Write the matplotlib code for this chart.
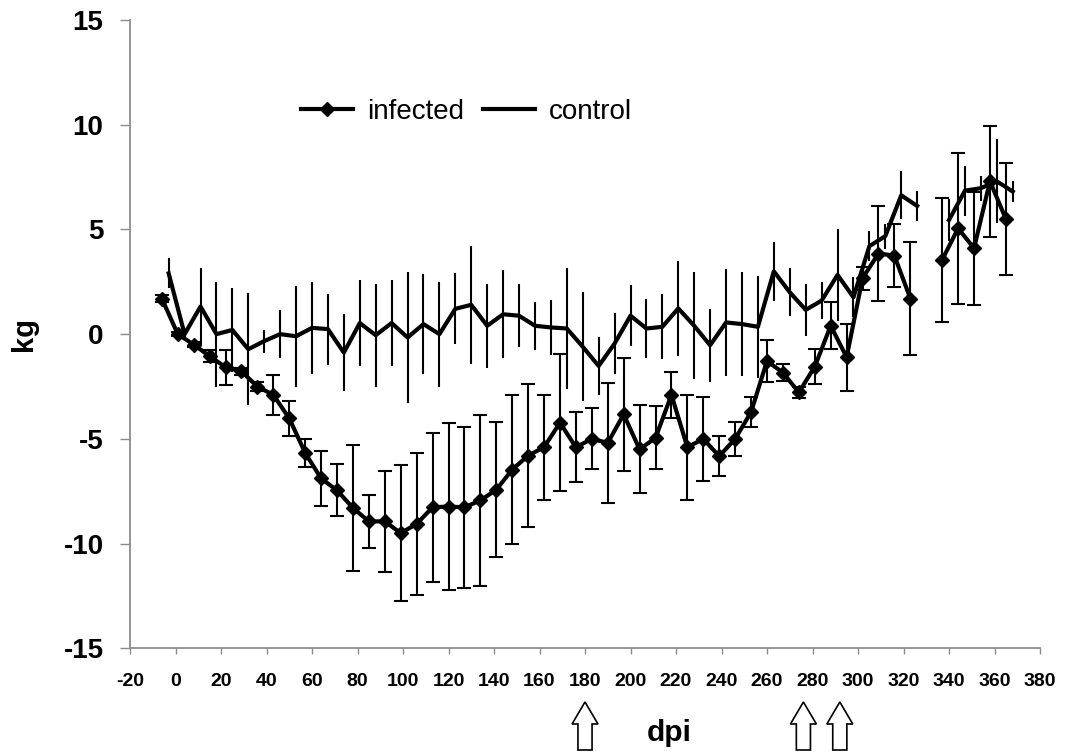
import numpy as np
import matplotlib
matplotlib.use("Agg")
import matplotlib.pyplot as plt
from matplotlib.patches import FancyArrow
from matplotlib.transforms import blended_transform_factory

plt.rcParams["font.family"] = ["Liberation Sans", "DejaVu Sans"]
plt.rcParams["axes.unicode_minus"] = False

nan = np.nan

# infected group: weight change (kg), mean and error; no sample at dpi 330
inf_dpi = [-6, 1, 8, 15, 22, 29, 36, 43, 50, 57, 64, 71, 78, 85, 92, 99, 106,
           113, 120, 127, 134, 141, 148, 155, 162, 169, 176, 183, 190, 197, 204,
           211, 218, 225, 232, 239, 246, 253, 260, 267, 274, 281, 288, 295, 302,
           309, 316, 323, 330, 337, 344, 351, 358, 365]
inf_kg = [1.7, 0.0, -0.5, -1.05, -1.58, -1.78, -2.5, -2.9, -4.02, -5.67, -6.89,
          -7.46, -8.3, -8.94, -8.94, -9.5, -9.06, -8.27, -8.23, -8.27, -7.94,
          -7.43, -6.47, -5.8, -5.4, -4.23, -5.4, -5.0, -5.19, -3.83, -5.5, -4.95,
          -2.9, -5.4, -5.0, -5.83, -5.0, -3.72, -1.28, -1.84, -2.78, -1.55, 0.4,
          -1.1, 2.67, 3.85, 3.75, 1.7, nan, 3.55, 5.05, 4.1, 7.3, 5.5]
inf_err = [0.15, 0.1, 0.12, 0.28, 0.84, 0.15, 0.2, 0.95, 0.84, 0.68, 1.3, 1.24,
           3.0, 1.27, 2.4, 3.26, 3.4, 3.57, 3.97, 3.83, 4.1, 3.22, 3.55, 3.4,
           2.5, 3.27, 1.68, 1.45, 2.86, 2.7, 2.1, 1.5, 1.1, 2.5, 2.0, 0.96, 0.8,
           0.7, 1.02, 0.42, 0.25, 0.85, 1.12, 1.6, 0.56, 2.28, 1.5, 2.7, nan,
           2.95, 3.6, 2.7, 2.65, 2.68]

# control group; no sample at dpi 333
ctl_dpi = [-3, 4, 11, 18, 25, 32, 39, 46, 53, 60, 67, 74, 81, 88, 95, 102, 109,
           116, 123, 130, 137, 144, 151, 158, 165, 172, 179, 186, 193, 200, 207,
           214, 221, 228, 235, 242, 249, 256, 263, 270, 277, 284, 291, 298, 305,
           312, 319, 326, 333, 340, 347, 354, 361, 368]
ctl_kg = [2.9, 0.0, 1.32, 0.0, 0.2, -0.72, -0.33, 0.0, -0.1, 0.3, 0.24, -0.88,
          0.53, -0.05, 0.53, -0.16, 0.48, 0.0, 1.21, 1.4, 0.4, 0.95, 0.88, 0.4,
          0.32, 0.27, -0.6, -1.52, -0.45, 0.88, 0.27, 0.35, 1.23, 0.4, -0.53,
          0.56, 0.48, 0.35, 3.0, 2.0, 1.16, 1.6, 2.83, 1.76, 4.2, 4.68, 6.63,
          6.12, nan, 5.45, 6.85, 6.97, 7.3, 6.81]
ctl_err = [0.72, 0.2, 1.85, 2.5, 2.0, 2.67, 0.55, 1.13, 2.4, 2.2, 1.7, 1.85,
           2.05, 2.45, 2.05, 3.15, 2.4, 2.5, 1.7, 2.82, 2.0, 2.1, 1.5, 1.15, 1.3,
           2.9, 2.6, 1.4, 1.45, 1.45, 1.4, 1.55, 2.25, 2.55, 1.75, 2.55, 2.5,
           2.45, 1.4, 1.15, 1.24, 0.9, 2.2, 0.96, 0.73, 0.6, 1.15, 0.7, nan,
           1.0, 1.2, 0.6, 2.0, 0.5]

# events marked under the axis
arrow_dpi = [180, 276, 292]

fig = plt.figure(figsize=(10.66, 7.52), dpi=100)
ax = fig.add_axes([130 / 1066, 103.7 / 752, 910 / 1066, 628.3 / 752])

ctl = ax.errorbar(ctl_dpi, ctl_kg, yerr=ctl_err, fmt="-", color="black",
                  lw=3, elinewidth=1.5, capsize=0)
inf = ax.errorbar(inf_dpi, inf_kg, yerr=inf_err, fmt="-D", color="black",
                  lw=3, ms=7, elinewidth=1.5, capsize=5, capthick=1.5)

ax.set_xlim(-20, 380)
ax.set_ylim(-15, 15)
ax.set_xticks(range(-20, 381, 20))
ax.set_yticks(range(-15, 16, 5))

for side in ["top", "right"]:
    ax.spines[side].set_visible(False)
for side in ["left", "bottom"]:
    ax.spines[side].set_color("#8c8c8c")
    ax.spines[side].set_linewidth(1.3)

ax.tick_params(axis="y", length=7, width=1, color="#8c8c8c", pad=12,
               labelsize=20)
ax.tick_params(axis="x", length=4, width=1, color="#8c8c8c", pad=14,
               labelsize=14)
plt.setp(ax.get_xticklabels() + ax.get_yticklabels(), fontweight="bold")

ax.set_ylabel("kg", fontsize=21, fontweight="bold")
ax.yaxis.set_label_coords(-0.101, 0.5)
ax.set_xlabel("dpi", fontsize=21.5, fontweight="bold")
ax.xaxis.set_label_coords(0.592, -0.112)

ax.legend([inf[0], ctl[0]], ["infected", "control"], loc="center left",
          bbox_to_anchor=(301 / 1066, 640.3 / 752),
          bbox_transform=fig.transFigure, ncol=2, frameon=False, fontsize=20,
          handlelength=1.87, handletextpad=0.5, columnspacing=0.7,
          borderpad=0, borderaxespad=0)

trans = blended_transform_factory(ax.transData, fig.transFigure)
for d in arrow_dpi:
    ax.add_patch(FancyArrow(d, 2 / 752, 0, 48 / 752, width=6.2,
                            head_width=11.4, head_length=22 / 752,
                            length_includes_head=True, fc="white",
                            ec="black", lw=1.2, transform=trans,
                            clip_on=False))

fig.savefig("out.png", dpi=100)
